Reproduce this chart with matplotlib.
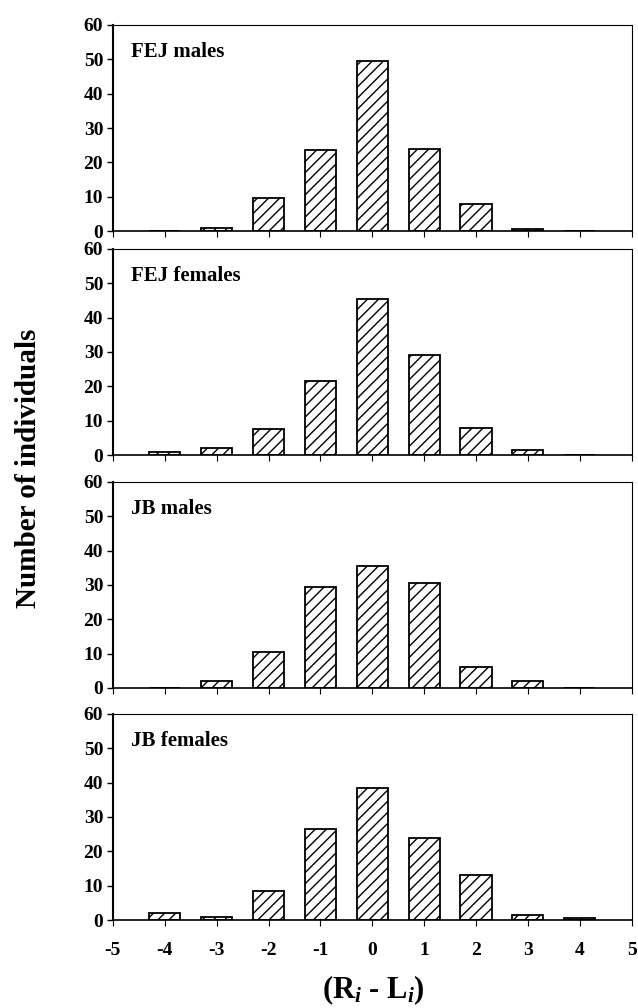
import numpy as np
import matplotlib
matplotlib.use('Agg')
import matplotlib.pyplot as plt

plt.rcParams['font.family'] = ['Liberation Serif', 'DejaVu Serif']
plt.rcParams['font.weight'] = 'bold'
plt.rcParams['mathtext.fontset'] = 'custom'
plt.rcParams['mathtext.rm'] = 'Liberation Serif:bold'
plt.rcParams['mathtext.it'] = 'Liberation Serif:italic:bold'
plt.rcParams['axes.unicode_minus'] = False
plt.rcParams['hatch.linewidth'] = 1.0

# Diferencia (R - L)
diffs = [-4, -3, -2, -1, 0, 1, 2, 3, 4]

# Numero de individuos por grupo
fej_males = [0, 1, 9.5, 23.5, 49.5, 24, 8, 0.6, 0]
fej_females = [1, 2, 7.5, 21.5, 45.5, 29, 8, 1.5, 0]
jb_males = [0, 2, 10.5, 29.5, 35.5, 30.5, 6, 2, 0]
jb_females = [2, 1, 8.5, 26.5, 38.5, 24, 13, 1.5, 0.5]

panels = ['FEJ males', 'FEJ females', 'JB males', 'JB females']
series = [fej_males, fej_females, jb_males, jb_females]

fig = plt.figure(figsize=(6.38, 10.08), dpi=100)

bottoms = [0.7708, 0.5486, 0.3175, 0.0873]
for i in range(4):
    ax = fig.add_axes([0.177, bottoms[i], 0.813, 0.2044])
    ax.bar(diffs, series[i], width=0.6, color='white', edgecolor='black',
           hatch='///', linewidth=1.3)
    ax.set_xlim(-5, 5)
    ax.set_ylim(0, 60)
    ax.set_yticks(range(0, 61, 10))
    ax.set_xticks(range(-5, 6))
    ax.tick_params(axis='y', direction='out', length=4, width=1, labelsize=14, pad=3)
    ax.tick_params(axis='x', direction='out', length=4, width=0.8, labelsize=14, pad=12)
    if i < 3:
        ax.set_xticklabels([])
    for s in ['top', 'right']:
        ax.spines[s].set_linewidth(0.8)
    ax.spines['left'].set_linewidth(1.5)
    ax.spines['bottom'].set_linewidth(1.2)
    ax.text(0.035, 0.87, panels[i], transform=ax.transAxes, fontsize=15,
            fontweight='bold', va='center', ha='left')

fig.text(0.045, 0.535, 'Number of individuals', rotation=90, fontsize=21,
         fontweight='bold', ha='center', va='center')
fig.text(0.585, 0.018, r'(R$_{\mathit{i}}$ - L$_{\mathit{i}}$)', fontsize=22,
         fontweight='bold', ha='center', va='center')

fig.savefig('out.png', dpi=100)
